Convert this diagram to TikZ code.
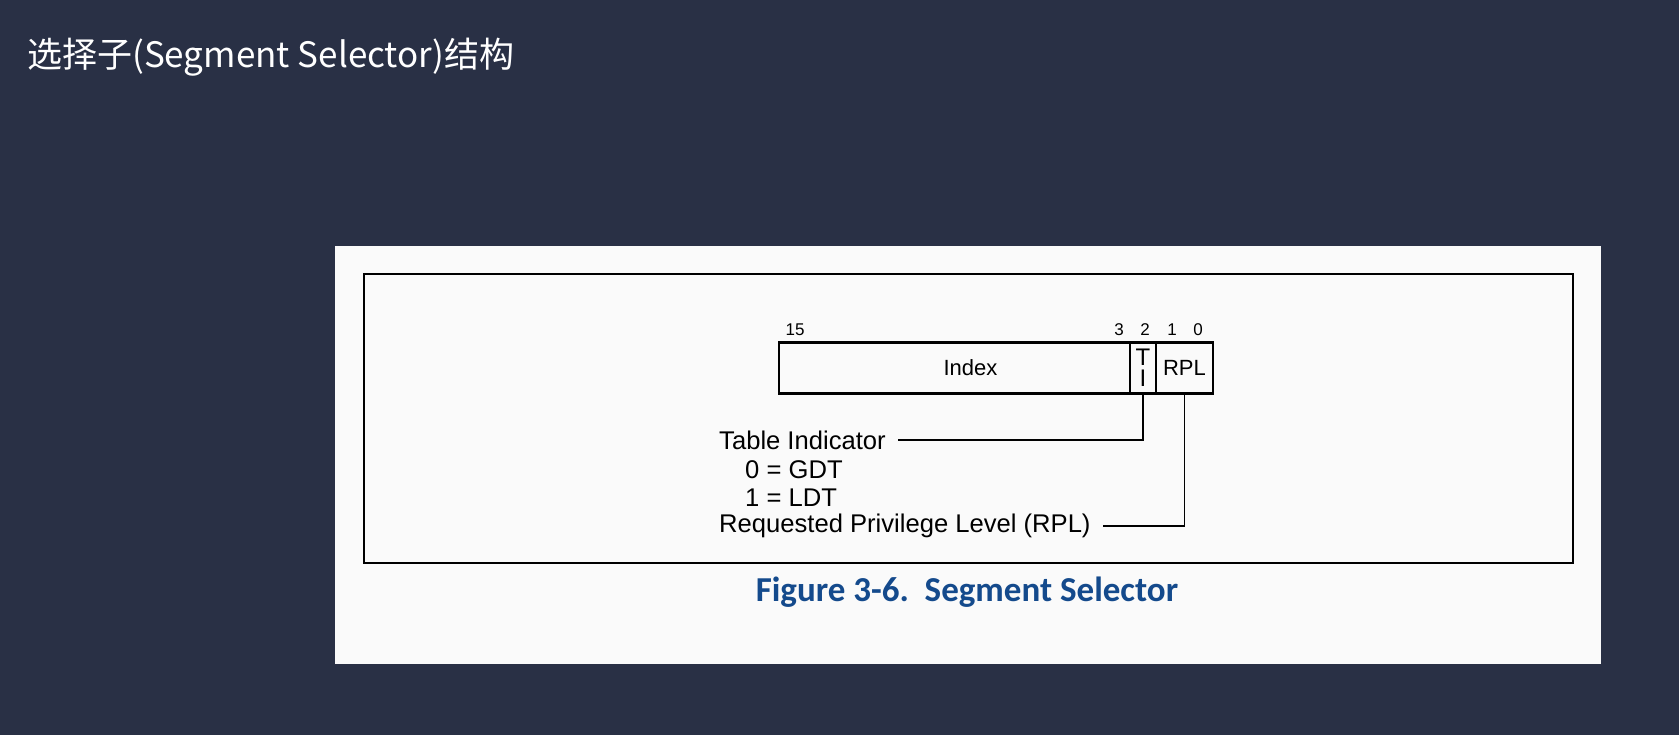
\documentclass[tikz,border=0pt]{standalone}
\usepackage{fontspec}
\setmainfont{Liberation Sans}
\newfontfamily\cjkfont{Noto Sans CJK SC}
\newfontfamily\capfont{Carlito}
\usetikzlibrary{positioning}

\definecolor{slidebg}{RGB}{41,48,69}
\definecolor{paper}{RGB}{250,250,250}
\definecolor{capblue}{RGB}{20,74,140}

\tikzstyle{field}=[draw,line width=1.3pt,minimum height=50pt,inner sep=0pt,font=\fontsize{22}{21}\selectfont]
\tikzstyle{bitno}=[font=\fontsize{17}{18}\selectfont,inner sep=0pt]
\tikzstyle{note}=[anchor=west,inner sep=0pt,font=\fontsize{25.6}{28}\selectfont]
\tikzstyle{lead}=[draw,line width=1.3pt,-]
\newcommand{\pxunit}{1pt}

\begin{document}
\begin{tikzpicture}[x=\pxunit, y=-\pxunit]
    % slide and paper
    \fill[slidebg] (0,0) rectangle (1679,735);
    \useasboundingbox (0,0) rectangle (1679,735);
    \fill[paper] (335,246) rectangle (1601,664);
    \draw[line width=2.5pt] (364,274) rectangle (1573,563);
    \node[anchor=west, text=white, inner sep=0pt, font=\cjkfont\fontsize{35}{40}\selectfont] (title) at (27,57) {选择子(Segment Selector)结构};
    % the selector fields
    \node[field, minimum width=351pt] (index) at (954.5,368) {};
    \node[field, draw=none] (indexlbl) at ([xshift=16pt]index.center) {Index};
    \node[field, minimum width=26pt, align=center, font=\fontsize{24}{21}\selectfont] (ti) at (1143,368) {T\\I};
    \node[field, minimum width=57pt] (rpl) at (1184.5,368) {RPL};
    \draw[line width=3pt] (index.north west) -- (rpl.north east);
    \draw[line width=3pt] (index.south west) -- (rpl.south east);
    % bit numbers
    \foreach \pos/\name/\bit in {{(795,330)/b15/15}, {(1119,330)/b3/3}, {(1145,330)/b2/2}, {(1172,330)/b1/1}, {(1198,330)/b0/0}}
        \node[bitno] (\name) at \pos {\bit};
    % notes under the fields
    \foreach \pos/\name/\text in {{(719,440)/tinote/Table Indicator}, {(745,470)/gdt/0 = GDT}, {(745,498)/ldt/1 = LDT}, {(719,526)/rplnote/Requested Privilege Level (RPL)}}
        \node[note] (\name) at \pos {\text};
    \path[lead] (ti.south) |- ([xshift=12pt]tinote.east);
    \path[lead] (rpl.south) |- ([xshift=12pt]rplnote.east);
    \node[text=capblue, font=\capfont\bfseries\fontsize{35}{40}\selectfont] (caption) at (967,592) {Figure 3-6.\ \ Segment Selector};
\end{tikzpicture}
\end{document}
